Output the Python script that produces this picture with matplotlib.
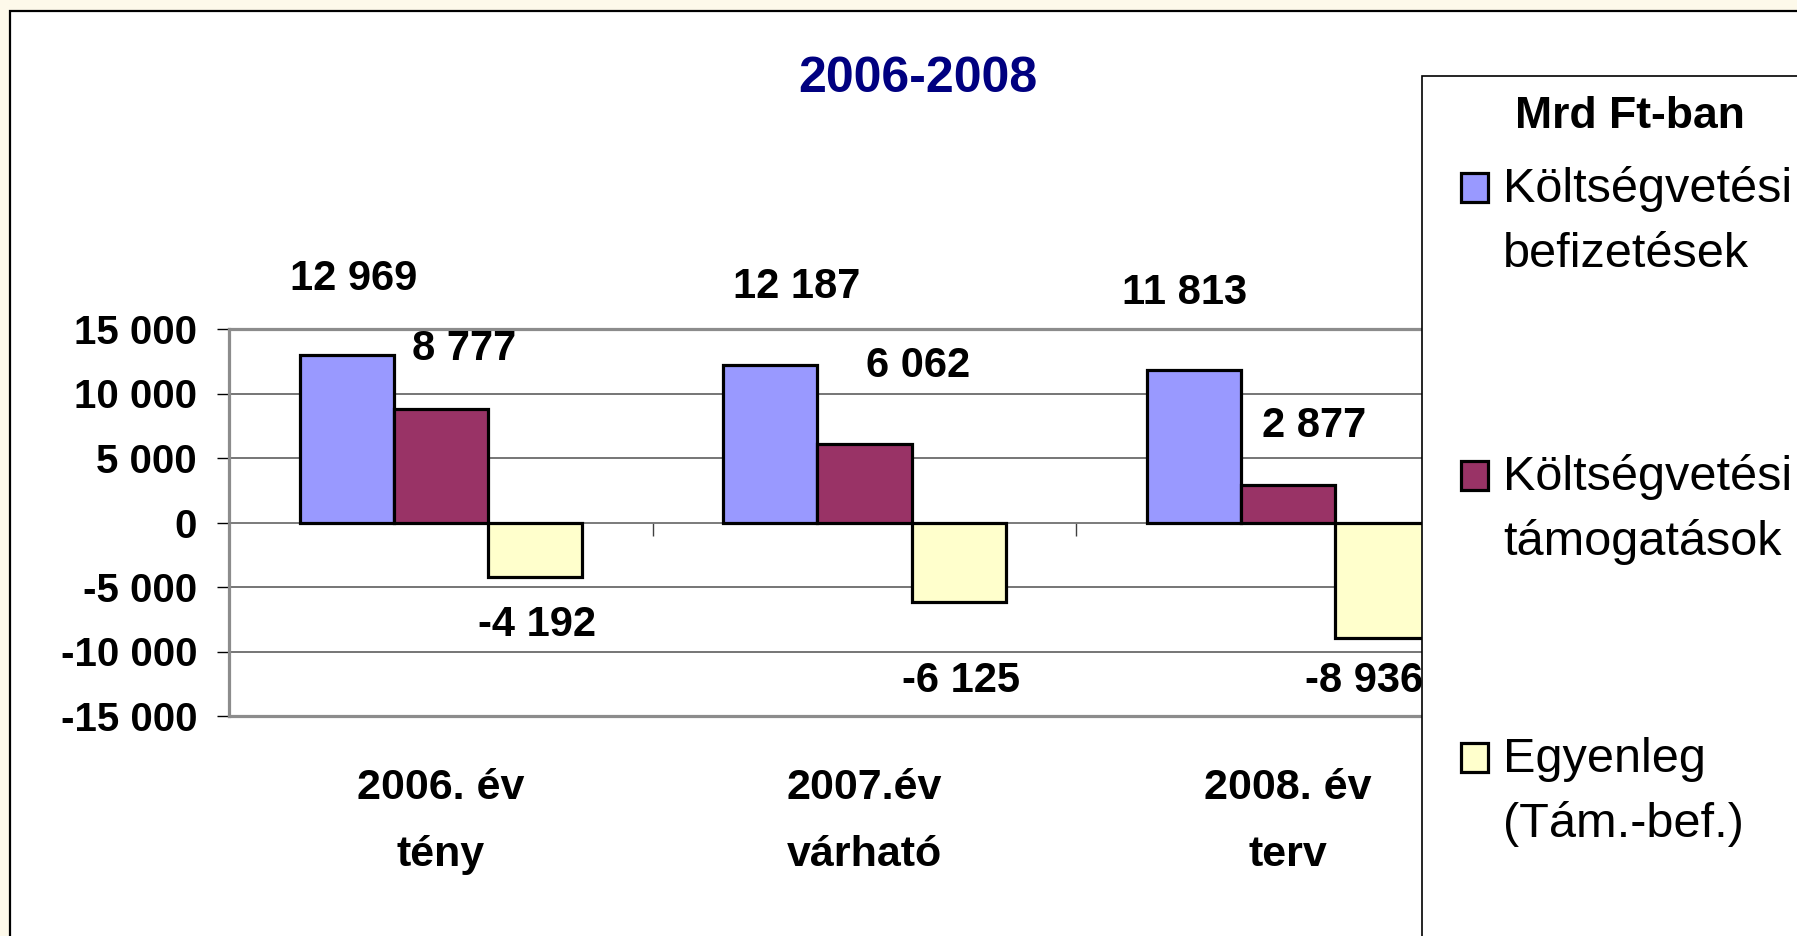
import matplotlib
matplotlib.use("Agg")
import matplotlib.pyplot as plt
from matplotlib.patches import Rectangle
from matplotlib.ticker import FuncFormatter
from matplotlib.transforms import blended_transform_factory

# ---------------- data ----------------
title = "2006-2008"
legend_title = "Mrd Ft-ban"
categories = ["2006. év\ntény", "2007.év\nvárható", "2008. év\nterv"]
series_names = ["Költségvetési\nbefizetések", "Költségvetési\ntámogatások", "Egyenleg\n(Tám.-bef.)"]
befizetesek = [12969, 12187, 11813]
tamogatasok = [8777, 6062, 2877]
egyenleg = [-4192, -6125, -8936]
y_ticks = [-15000, -10000, -5000, 0, 5000, 10000, 15000]

# ---------------- style ----------------
colors = ["#9999FF", "#993366", "#FFFFCC"]
# data-label offsets in pixels (dx, dy) from the bar end
label_offsets = [[(7, 76), (26, 78), (-9, 77)],
                 [(23, 60), (54, 78), (26, 59)],
                 [(2, -48), (2, -79), (-18, -43)]]

W, H, DPI = 1797, 936, 100

plt.rcParams["font.family"] = ["Liberation Sans", "DejaVu Sans"]


def fx(px):
    return px / W


def fy(py):
    return 1 - py / H


def fmt(v):
    return f"{int(round(v)):,}".replace(",", " ")


fig = plt.figure(figsize=(W / DPI, H / DPI), dpi=DPI, facecolor="#fdf9ea")

# outer white frame
fig.add_artist(Rectangle((fx(10), -0.02), 1.1, fy(11) + 0.02, transform=fig.transFigure,
                         facecolor="white", edgecolor="black", lw=1.6, zorder=-5))

ax = fig.add_axes([fx(229), fy(716), (1500 - 229) / W, (716 - 329) / H])
ax.set_facecolor("white")
ax.set_xlim(-0.5, 2.5)
ax.set_ylim(y_ticks[0], y_ticks[-1])

series = [befizetesek, tamogatasok, egyenleg]
bw = 1 / 4.5
for i, (vals, col) in enumerate(zip(series, colors)):
    xs = [c + (i - 1) * bw for c in range(len(categories))]
    ax.bar(xs, vals, width=bw, color=col, edgecolor="black", linewidth=2.3, zorder=3)
    for j, (x, v) in enumerate(zip(xs, vals)):
        ax.annotate(fmt(v), xy=(x, v), xytext=label_offsets[i][j], textcoords="offset pixels",
                    ha="center", va="center", fontsize=30, fontweight="bold",
                    zorder=4, annotation_clip=False)

# grid and spines
ax.set_yticks(y_ticks)
ax.yaxis.set_major_formatter(FuncFormatter(lambda v, p: fmt(v)))
ax.yaxis.grid(True, color="#505050", lw=1.1)
ax.set_axisbelow(True)
for s in ("left", "top"):
    ax.spines[s].set_color("#8c8c8c")
    ax.spines[s].set_linewidth(2.3)
ax.spines["right"].set_visible(False)
ax.spines["bottom"].set_position(("data", 0))
ax.spines["bottom"].set_color("#808080")
ax.spines["bottom"].set_linewidth(1.1)
ax.axhline(y_ticks[0], color="#8c8c8c", lw=2.3, clip_on=False, zorder=2)

ax.set_xticks([-0.5, 0.5, 1.5, 2.5])
ax.set_xticklabels([])
ax.tick_params(axis="x", direction="out", length=9.4, width=1.0, color="#404040")
ax.tick_params(axis="y", direction="out", length=8.6, width=1.0, color="black",
               pad=14.4, labelsize=29)
for lab in ax.get_yticklabels():
    lab.set_fontweight("bold")

# category labels (two lines)
trans = blended_transform_factory(ax.transData, ax.transAxes)
line_base = [(716 - 799) / 387, (716 - 866) / 387]
for c, lab in enumerate(categories):
    for j, line in enumerate(lab.split("\n")):
        ax.text(c, line_base[j], line, transform=trans, ha="center", va="baseline",
                fontsize=31, fontweight="bold")

# title
fig.text(fx(918), fy(92), title, ha="center", va="baseline", fontsize=36,
         fontweight="bold", color="#000080")

# legend panel
fig.add_artist(Rectangle((fx(1422), -0.02), 1.0, fy(76) + 0.02, transform=fig.transFigure,
                         facecolor="white", edgecolor="black", lw=1.2, zorder=5))
fig.text(fx(1630), fy(128), legend_title, ha="center", va="baseline", fontsize=32,
         fontweight="bold", zorder=6)
entry_base = [201.7, 490, 771.7]
for name, col, b in zip(series_names, colors, entry_base):
    fig.add_artist(Rectangle((fx(1461), fy(b)), 27 / W, 29 / H, transform=fig.transFigure,
                             facecolor=col, edgecolor="black", lw=2.3, zorder=6))
    for j, line in enumerate(name.split("\n")):
        fig.text(fx(1503), fy(b + 65 * j), line, ha="left", va="baseline",
                 fontsize=35, zorder=6)

fig.savefig("out.png", dpi=DPI, facecolor=fig.get_facecolor())
